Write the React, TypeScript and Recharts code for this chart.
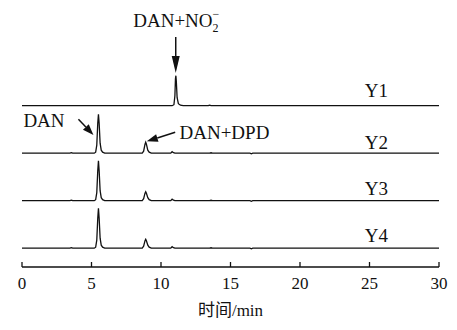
import {
  LineChart,
  Line,
  XAxis,
  YAxis,
  ReferenceLine,
  ReferenceDot,
} from "recharts";

// chromatogram traces (time in min, signal in arbitrary units above each baseline)
const y1Time = [0, 10.8, 10.93, 11.0, 11.04, 11.07, 11.1, 11.16, 11.25, 11.4, 11.6, 13.4, 13.5, 13.6, 30];
const y1Signal = [0, 0, 1, 10, 27, 30, 25, 8, 2, 0.5, 0, 0, 0.6, 0, 0];

const danTime = [
  0, 3.45, 3.55, 3.65, 5.2, 5.3, 5.38, 5.45, 5.5, 5.55, 5.62, 5.7, 5.8, 5.95,
  8.65, 8.75, 8.85, 8.9, 8.95, 9.05, 9.15, 9.3, 10.7, 10.8, 10.9, 11.0,
  13.5, 13.6, 13.7, 16.4, 16.5, 16.6, 30,
];
const y2Signal = [
  0, 0, 0.6, 0, 0, 1, 8, 30, 39, 30, 10, 3, 1, 0,
  0, 2, 9, 11, 9, 3, 1, 0, 0, 1.5, 0.5, 0,
  0, 0.4, 0, 0, -0.6, 0, 0,
];
const y3Signal = [
  0, 0, 0.6, 0, 0, 1, 8, 30, 40, 30, 10, 3, 1, 0,
  0, 2, 7.5, 9, 7.5, 3, 1, 0, 0, 1.5, 0.5, 0,
  0, 0.4, 0, 0, -0.6, 0, 0,
];
const y4Signal = [
  0, 0, 0.6, 0, 0, 1, 8, 30, 40, 30, 10, 3, 1, 0,
  0, 2, 7.5, 9, 7.5, 3, 1, 0, 0, 1.5, 0.5, 0,
  0, 0.4, 0, 0, -0.6, 0, 0,
];

const seriesNames = ["Y1", "Y2", "Y3", "Y4"];
const xTicks = [0, 5, 10, 15, 20, 25, 30];

const FONT = "'Liberation Serif', 'Times New Roman', 'Noto Sans CJK SC', serif";
const INK = "#111";

// vertical stacking of the traces
const baselines = [161.3, 113.8, 66.3, 18.8];
const labelGap = [9, 4, 5.5, 6];

const traces = [
  { time: y1Time, signal: y1Signal },
  { time: danTime, signal: y2Signal },
  { time: danTime, signal: y3Signal },
  { time: danTime, signal: y4Signal },
];

const Arrow = (props: any) => {
  const { x1, y1, x2, y2, headLen = 11, headWidth = 8 } = props;
  const dx = x2 - x1;
  const dy = y2 - y1;
  const len = Math.sqrt(dx * dx + dy * dy);
  const ux = dx / len;
  const uy = dy / len;
  const bx = x2 - ux * headLen;
  const by = y2 - uy * headLen;
  const px = -uy * (headWidth / 2);
  const py = ux * (headWidth / 2);
  return (
    <g>
      <line x1={x1} y1={y1} x2={bx} y2={by} stroke={INK} strokeWidth={1.5} />
      <polygon
        points={`${x2},${y2} ${bx + px},${by + py} ${bx - px},${by - py}`}
        fill={INK}
      />
    </g>
  );
};

const Tick = (props: any) => {
  const { x, y, payload } = props;
  return (
    <g>
      <line x1={x} x2={x} y1={y} y2={y - 5} stroke={INK} strokeWidth={1.3} />
      <text x={x} y={y + 22} textAnchor="middle" fontFamily={FONT} fontSize={17} fill={INK}>
        {payload.value}
      </text>
    </g>
  );
};

const App = () => {
  const lineData = traces.map((tr, i) =>
    tr.time.map((t, j) => ({ t, v: tr.signal[j] + baselines[i] }))
  );

  return (
    <div style={{ position: "absolute", left: 0, top: 0, background: "#fff" }}>
      <LineChart
        width={457}
        height={330}
        margin={{ top: 10, right: 18, left: 22, bottom: 0 }}
      >
        <XAxis
          dataKey="t"
          type="number"
          domain={[0, 30]}
          ticks={xTicks}
          height={63}
          tickSize={0}
          tickMargin={0}
          tickLine={false}
          tick={<Tick />}
          axisLine={{ stroke: INK, strokeWidth: 1.3 }}
          label={{
            value: "时间/min",
            position: "insideBottom",
            offset: 14,
            fontFamily: FONT,
            fontSize: 17,
            fill: INK,
          }}
        />
        <YAxis hide type="number" domain={[0, 257]} />
        {lineData.map((d, i) => (
          <Line
            key={seriesNames[i]}
            data={d}
            dataKey="v"
            type="linear"
            stroke={INK}
            strokeWidth={1.3}
            dot={false}
            isAnimationActive={false}
          />
        ))}
        {seriesNames.map((name, i) => (
          <ReferenceDot
            key={"lbl" + name}
            x={25.5}
            y={baselines[i] + labelGap[i]}
            r={0}
            shape={(p: any) => (
              <text x={p.cx} y={p.cy} textAnchor="middle" fontFamily={FONT} fontSize={19} fill={INK}>
                {name}
              </text>
            )}
          />
        ))}
        {/* DAN+NO2- annotation */}
        <ReferenceDot
          x={11.1}
          y={240}
          r={0}
          shape={(p: any) => (
            <text x={p.cx} y={p.cy} textAnchor="middle" fontFamily={FONT} fontSize={19} fill={INK}>
              DAN+NO
              <tspan dy={5} fontSize={12}>2</tspan>
              <tspan dx={-6} dy={-14} fontSize={12}>−</tspan>
            </text>
          )}
        />
        <ReferenceLine
          segment={[{ x: 11.06, y: 230 }, { x: 11.06, y: 194 }]}
          shape={(p: any) => <Arrow {...p} headLen={17} headWidth={8} />}
        />
        {/* DAN annotation */}
        <ReferenceDot
          x={0.1}
          y={140.3}
          r={0}
          shape={(p: any) => (
            <text x={p.cx} y={p.cy} textAnchor="start" fontFamily={FONT} fontSize={19} fill={INK}>
              DAN
            </text>
          )}
        />
        <ReferenceLine
          segment={[{ x: 4.06, y: 147.7 }, { x: 5.14, y: 132 }]}
          shape={(p: any) => <Arrow {...p} headLen={11} headWidth={8} />}
        />
        {/* DAN+DPD annotation */}
        <ReferenceDot
          x={11.33}
          y={128.3}
          r={0}
          shape={(p: any) => (
            <text x={p.cx} y={p.cy} textAnchor="start" fontFamily={FONT} fontSize={19} fill={INK}>
              DAN+DPD
            </text>
          )}
        />
        <ReferenceLine
          segment={[{ x: 11.02, y: 134.7 }, { x: 8.98, y: 125.7 }]}
          shape={(p: any) => <Arrow {...p} headLen={11} headWidth={8} />}
        />
      </LineChart>
    </div>
  );
};

export default App;
